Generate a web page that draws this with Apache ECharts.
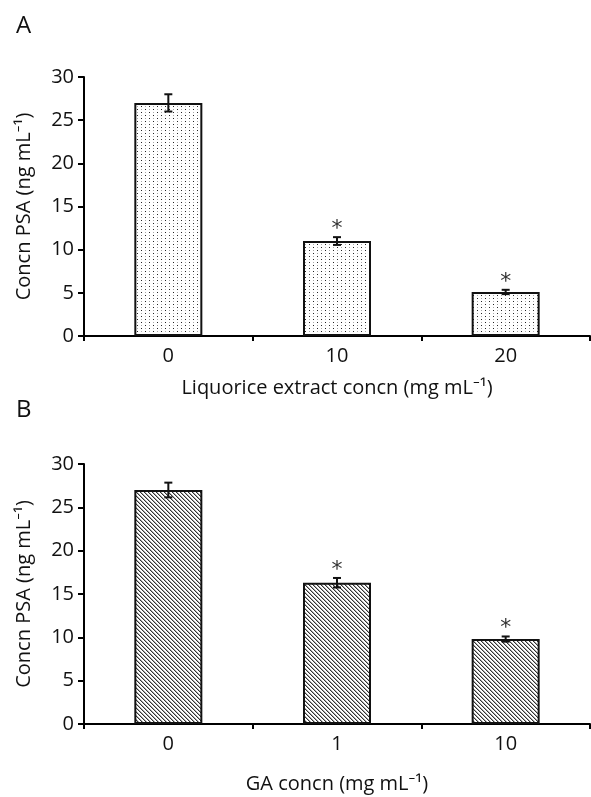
<!DOCTYPE html>
<html>
<head>
<meta charset="utf-8">
<script src="https://cdn.jsdelivr.net/npm/echarts@6/dist/echarts.min.js"></script>
<style>
html,body{margin:0;padding:0;background:#fff;}
#c{width:591px;height:797px;}
</style>
</head>
<body>
<div id="c"></div>
<script>
// ---- data ----
var catsA = ['0', '10', '20'];
var valsA = [27.0, 11.0, 5.1];
var errA = [1.0, 0.45, 0.25];
var sigA = [0, 1, 1];

var catsB = ['0', '1', '10'];
var valsB = [27.0, 16.3, 9.8];
var errB = [0.85, 0.55, 0.3];
var sigB = [0, 1, 1];

var yTicks = [0, 5, 10, 15, 20, 25, 30];

var xNameA = 'Liquorice extract concn (mg mL\u207B\u00B9)';
var xNameB = 'GA concn (mg mL\u207B\u00B9)';
var yName = 'Concn PSA (ng mL\u207B\u00B9)';

var FONT = '"Open Sans", "Noto Sans", "DejaVu Sans", sans-serif';

function dotPattern() {
  var c = document.createElement('canvas');
  c.width = 8; c.height = 6;
  var g = c.getContext('2d');
  g.fillStyle = '#ffffff'; g.fillRect(0, 0, 8, 6);
  g.fillStyle = '#222'; g.fillRect(1, 1, 1, 1); g.fillRect(5, 4, 1, 1);
  g.fillStyle = '#aaa'; g.fillRect(5, 1, 1, 1); g.fillRect(1, 4, 1, 1);
  return c;
}
function hatchPattern() {
  var c = document.createElement('canvas');
  c.width = 4; c.height = 4;
  var g = c.getContext('2d');
  g.fillStyle = '#ffffff'; g.fillRect(0, 0, 4, 4);
  for (var i = 0; i < 4; i++) {
    g.fillStyle = '#333'; g.fillRect(i, i, 1, 1);
    g.fillStyle = '#aaa'; g.fillRect((i + 1) % 4, i, 1, 1);
  }
  return c;
}

function errData(vals, errs, sig) {
  return vals.map(function (v, i) { return [i, v, errs[i], sig[i]]; });
}

function renderErr(params, api) {
  var i = api.value(0), v = api.value(1), e = api.value(2), s = api.value(3);
  var top = api.coord([i, v + e]);
  var bot = api.coord([i, v - e]);
  var x = top[0];
  var cap = 4;
  var st = { stroke: '#111', lineWidth: 2 };
  var children = [
    { type: 'line', shape: { x1: x, y1: top[1], x2: x, y2: bot[1] }, style: st },
    { type: 'line', shape: { x1: x - cap, y1: top[1], x2: x + cap, y2: top[1] }, style: st },
    { type: 'line', shape: { x1: x - cap, y1: bot[1], x2: x + cap, y2: bot[1] }, style: st }
  ];
  if (s) {
    children.push({
      type: 'text',
      style: { text: '*', x: x, y: top[1] - 8, align: 'center', verticalAlign: 'middle',
               fontSize: 22, fill: '#333', fontFamily: 'DejaVu Sans' }
    });
  }
  return { type: 'group', children: children };
}

function xAxis(gi, cats, name, gap) {
  return {
    type: 'category', gridIndex: gi, data: cats,
    boundaryGap: true,
    axisLine: { lineStyle: { color: '#000', width: 2 } },
    axisTick: { show: true, length: 5, lineStyle: { color: '#000', width: 2 } },
    axisLabel: { fontSize: 20, color: '#111', margin: 10, fontFamily: FONT },
    name: name, nameLocation: 'middle', nameGap: gap,
    nameTextStyle: { fontSize: 20, color: '#111', fontFamily: FONT }
  };
}
function yAxis(gi) {
  return {
    type: 'value', gridIndex: gi, min: yTicks[0], max: yTicks[yTicks.length - 1], interval: 5,
    axisLine: { show: true, lineStyle: { color: '#000', width: 2 } },
    axisTick: { show: true, length: 6, lineStyle: { color: '#000', width: 2 } },
    axisLabel: { fontSize: 20, color: '#111', margin: 10, fontFamily: FONT },
    splitLine: { show: false },
    name: yName, nameLocation: 'middle', nameGap: 50, nameRotate: 90,
    nameTextStyle: { fontSize: 20, color: '#111', fontFamily: FONT }
  };
}

var chart = echarts.init(document.getElementById('c'), null, { renderer: 'canvas' });
chart.setOption({
  backgroundColor: '#fff',
  animation: false,
  title: [
    { text: 'A', left: 11, top: 9, textStyle: { fontSize: 24, fontWeight: 'normal', color: '#111', fontFamily: FONT } },
    { text: 'B', left: 11, top: 393, textStyle: { fontSize: 24, fontWeight: 'normal', color: '#111', fontFamily: FONT } }
  ],
  grid: [
    { left: 84, right: 1, top: 77, height: 259 },
    { left: 84, right: 1, top: 464, height: 260 }
  ],
  xAxis: [xAxis(0, catsA, xNameA, 42), xAxis(1, catsB, xNameB, 50)],
  yAxis: [yAxis(0), yAxis(1)],
  series: [
    { type: 'bar', xAxisIndex: 0, yAxisIndex: 0, data: valsA, barWidth: 68,
      itemStyle: { color: { image: dotPattern(), repeat: 'repeat' }, borderColor: '#111', borderWidth: 2 } },
    { type: 'custom', xAxisIndex: 0, yAxisIndex: 0, data: errData(valsA, errA, sigA), renderItem: renderErr, z: 5 },
    { type: 'bar', xAxisIndex: 1, yAxisIndex: 1, data: valsB, barWidth: 68,
      itemStyle: { color: { image: hatchPattern(), repeat: 'repeat' }, borderColor: '#111', borderWidth: 2 } },
    { type: 'custom', xAxisIndex: 1, yAxisIndex: 1, data: errData(valsB, errB, sigB), renderItem: renderErr, z: 5 }
  ]
});
</script>
</body>
</html>
